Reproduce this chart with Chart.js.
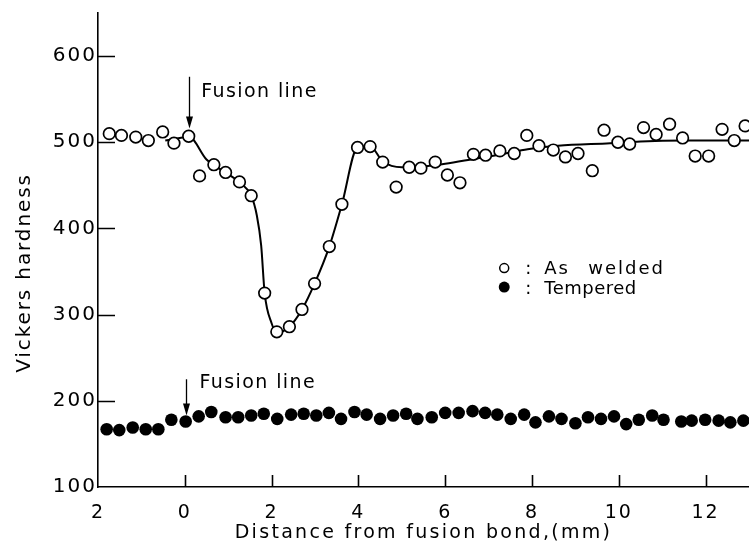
<!DOCTYPE html>
<html><head><meta charset="utf-8">
<script src="https://cdn.jsdelivr.net/npm/chart.js@4/dist/chart.umd.min.js"></script>
<style>html,body{margin:0;padding:0;background:#fff}canvas{display:block}</style>
</head><body>
<canvas id="c" width="749" height="551"></canvas>
<script>
// ---- data ----
const asWeldedX = [-1.74,-1.46,-1.13,-0.84,-0.51,-0.25,0.09,0.34,0.67,0.94,1.26,1.53,1.84,2.12,2.41,2.70,2.99,3.33,3.62,3.98,4.27,4.56,4.87,5.17,5.44,5.77,6.05,6.34,6.65,6.93,7.26,7.59,7.88,8.16,8.49,8.77,9.06,9.39,9.66,9.98,10.25,10.57,10.86,11.17,11.47,11.76,12.07,12.38,12.66,12.91];
const asWeldedY = [510,508,506,502,512,499,507,461,474,465,454,438,325,280,286,306,336,379,428,494,495,477,448,471,470,477,462,453,486,485,490,487,508,496,491,483,487,467,514,500,498,517,509,521,505,484,484,515,502,519];
const temperedX = [-1.80,-1.51,-1.20,-0.90,-0.61,-0.31,0.02,0.32,0.61,0.94,1.23,1.53,1.82,2.13,2.45,2.74,3.03,3.32,3.60,3.91,4.19,4.50,4.80,5.10,5.36,5.69,6.00,6.31,6.63,6.92,7.20,7.51,7.82,8.08,8.39,8.68,9.00,9.29,9.59,9.89,10.17,10.46,10.77,11.03,11.44,11.68,11.99,12.30,12.57,12.87];
const temperedY = [167,166,169,167,167,178,176,182,187,181,181,183,185,179,184,185,183,186,179,187,184,179,183,185,179,181,186,186,188,186,184,179,184,175,182,179,174,181,179,182,173,178,183,178,176,177,178,177,175,177];
const curveX = [-0.45,0.1,0.5,0.94,1.3,1.53,1.66,1.76,1.84,2.0,2.12,2.41,2.70,2.99,3.33,3.62,3.98,4.27,4.56,5.0,5.5,6.0,6.7,7.3,7.9,8.6,9.8,10.5,11.5,13.0];
const curveY = [502,506,480,465,452,438,415,380,325,290,279,286,306,336,379,428,494,495,478,471,472,475,481,486,492,496,499,501,502,502];
const xTickValues = [-2,0,2,4,6,8,10,12];
const xTickLabels = ['2','0','2','4','6','8','10','12'];
const yTickValues = [100,200,300,400,500,600];
const yTickLabels = ['100','200','300','400','500','600'];
const xTitle = 'Distance from fusion bond,(mm)';
const yTitle = 'Vickers hardness';
const legendLabels = ['As welded','Tempered'];
const annotationText = 'Fusion line';

const pts = (xs, ys) => xs.map((x, i) => ({x: x, y: ys[i]}));
const FONT = '"DejaVu Sans", sans-serif';

const decor = {
  id: 'decor',
  beforeUpdate(chart){ chart.ctx.letterSpacing = '2px'; },
  beforeDraw(chart){ chart.ctx.letterSpacing = '2px'; },
  afterDraw(chart){
    const ctx = chart.ctx, a = chart.chartArea, x = chart.scales.x, y = chart.scales.y;
    ctx.save();
    ctx.strokeStyle = '#000'; ctx.fillStyle = '#000'; ctx.lineWidth = 1.6;
    // inward tick marks
    ctx.beginPath();
    yTickValues.forEach(v => { if (v === y.min) return; const py = Math.round(y.getPixelForValue(v)) + 0.5; ctx.moveTo(a.left, py); ctx.lineTo(a.left + 17, py); });
    xTickValues.forEach(v => { if (v === x.min) return; const px = Math.round(x.getPixelForValue(v)) + 0.5; ctx.moveTo(px, a.bottom); ctx.lineTo(px, a.bottom - 12); });
    ctx.stroke();

    // axis titles
    ctx.textBaseline = 'alphabetic';
    ctx.font = '19px ' + FONT;
    ctx.letterSpacing = '2.3px';
    ctx.textAlign = 'center';
    ctx.fillText(xTitle, (a.left + a.right) / 2, 538);
    ctx.save();
    ctx.translate(30, 273);
    ctx.rotate(-Math.PI / 2);
    ctx.font = '20px ' + FONT;
    ctx.letterSpacing = '1.9px';
    ctx.fillText(yTitle, 0, 0);
    ctx.restore();

    // fusion line annotations
    const arrow = (xv, yTop, yBot) => {
      const px = Math.round(x.getPixelForValue(xv)) + 0.5;
      const t = y.getPixelForValue(yTop), b = y.getPixelForValue(yBot);
      ctx.lineWidth = 1.3;
      ctx.beginPath(); ctx.moveTo(px, t); ctx.lineTo(px, b - 10); ctx.stroke();
      ctx.beginPath(); ctx.moveTo(px - 3.5, b - 12); ctx.lineTo(px + 3.5, b - 12); ctx.lineTo(px, b); ctx.closePath(); ctx.fill();
    };
    arrow(0.1, 576, 516);
    arrow(0.02, 225, 183);
    ctx.font = '19px ' + FONT;
    ctx.letterSpacing = '1.4px';
    ctx.textAlign = 'left';
    ctx.fillText(annotationText, x.getPixelForValue(0.38), y.getPixelForValue(553));
    ctx.fillText(annotationText, x.getPixelForValue(0.34), y.getPixelForValue(215));

    // legend
    const lx = x.getPixelForValue(7.36);
    const r1 = y.getPixelForValue(354), r2 = y.getPixelForValue(332);
    ctx.lineWidth = 1.5;
    ctx.beginPath(); ctx.arc(lx, r1, 4.5, 0, Math.PI * 2); ctx.fillStyle = '#fff'; ctx.fill(); ctx.stroke();
    ctx.fillStyle = '#000';
    ctx.beginPath(); ctx.arc(lx, r2, 5.5, 0, Math.PI * 2); ctx.fill();
    ctx.font = '18px ' + FONT;
    ctx.letterSpacing = '2px';
    ctx.textAlign = 'center';
    ctx.fillText(':', lx + 25, r1 + 6);
    ctx.fillText(':', lx + 25, r2 + 7);
    ctx.textAlign = 'left';
    const parts = legendLabels[0].split(' ');
    ctx.fillText(parts[0], lx + 40, r1 + 6);
    ctx.fillText(parts[1], lx + 84, r1 + 6);
    ctx.letterSpacing = '0.5px';
    ctx.fillText(legendLabels[1], lx + 40, r2 + 7);
    ctx.restore();
  }
};

new Chart(document.getElementById('c'), {
  type: 'scatter',
  data: {
    datasets: [
      { label: legendLabels[0], data: pts(asWeldedX, asWeldedY), pointStyle: 'circle', pointRadius: 5.8, pointBorderWidth: 1.7, pointBackgroundColor: '#fff', pointBorderColor: '#000', showLine: false, order: 1 },
      { label: legendLabels[1], data: pts(temperedX, temperedY), pointStyle: 'circle', pointRadius: 6.3, pointBorderWidth: 0, pointBackgroundColor: '#000', pointBorderColor: '#000', showLine: false, order: 2 },
      { label: 'fit', data: pts(curveX, curveY), showLine: true, pointRadius: 0, borderColor: '#000', borderWidth: 2, cubicInterpolationMode: 'monotone', fill: false, order: 3 }
    ]
  },
  options: {
    responsive: false,
    animation: false,
    events: [],
    layout: { autoPadding: false, padding: { top: 10, right: 0, left: 0, bottom: 0 } },
    plugins: { legend: { display: false }, tooltip: { enabled: false }, title: { display: false } },
    scales: {
      x: {
        type: 'linear', min: -2, max: 13,
        afterBuildTicks: s => { s.ticks = xTickValues.map(v => ({value: v})); },
        afterFit: s => { s.height = 64; },
        grid: { display: false, drawTicks: false },
        border: { display: true, color: '#000', width: 1.6 },
        ticks: { color: '#000', padding: 15, maxRotation: 0, autoSkip: false, font: { family: FONT, size: 19 },
          callback: (v) => { const i = xTickValues.indexOf(v); return i >= 0 ? xTickLabels[i] : ''; } }
      },
      y: {
        type: 'linear', min: 100, max: 650,
        afterBuildTicks: s => { s.ticks = yTickValues.map(v => ({value: v})); },
        afterFit: s => { s.width = 98; },
        grid: { display: false, drawTicks: false },
        border: { display: true, color: '#000', width: 1.6 },
        ticks: { color: '#000', padding: 1, autoSkip: false, font: { family: FONT, size: 20 },
          callback: (v) => { const i = yTickValues.indexOf(v); return i >= 0 ? yTickLabels[i] : ''; } }
      }
    }
  },
  plugins: [decor]
});
</script>
</body></html>
